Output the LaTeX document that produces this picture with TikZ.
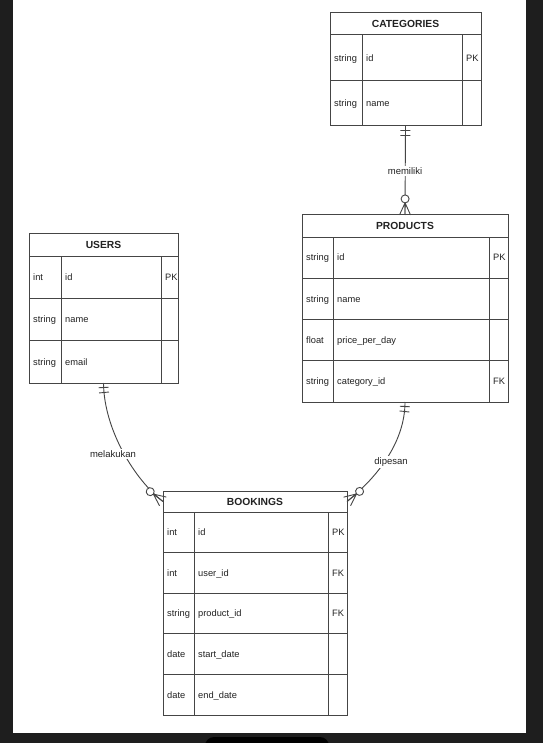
\documentclass[tikz,border=0pt]{standalone}
\usepackage{fontspec}
\setmainfont{Liberation Sans}
\usetikzlibrary{decorations.markings}

\definecolor{frame}{HTML}{1E1E1E}
\definecolor{ink}{HTML}{222222}
\definecolor{rule}{HTML}{454545}

\tikzset{
  tblbox/.style={draw=rule, line width=1pt, inner sep=0pt, outer sep=0pt, fill=white},
  tblhead/.style={draw=rule, line width=1pt, inner sep=0pt, outer sep=0pt,
    font=\fontsize{10.3}{12}\selectfont\bfseries, text=ink},
  grid/.style={draw=rule, line width=0.95pt},
  fld/.style={anchor=west, inner sep=0pt, text height=6.7pt, text depth=0pt,
    font=\fontsize{9.3}{11}\selectfont, text=ink},
  rel/.style={draw=rule, line width=0.9pt},
  rellabel/.style={fill=white, inner sep=1.5pt, font=\fontsize{9.5}{11}\selectfont, text=ink},
  % "exactly one" end: two bars across the line
  onlyone/.style={postaction={decorate, decoration={markings,
      mark=at position 4.5pt with {\draw[rel] (0,-5pt) -- (0,5pt);},
      mark=at position 9.5pt with {\draw[rel] (0,-5pt) -- (0,5pt);}}}},
  % "zero or many" end: crow's foot plus open circle
  zeromany/.style={postaction={decorate, decoration={markings,
      mark=at position 0.999 with {
        \draw[rel] (-12pt,0) -- (0,5.5pt) (-12pt,0) -- (0,0) (-12pt,0) -- (0,-5.5pt);
        \draw[rel, fill=white] (-16pt,0) circle (4pt);}}}},
}

% name, title, left, top, right, bottom, header bottom
\newcommand\ertable[7]{%
  \node[tblbox, anchor=north west, minimum width={(#5)-(#3)}, minimum height={(#6)-(#4)}] (#1) at (#3,#4) {};
  \node[tblhead, anchor=north west, minimum width={(#5)-(#3)}, minimum height={(#7)-(#4)}] (#1-head) at (#3,#4) {#2};
}

% name, left, right, column 1, column 2, header bottom, bottom, row count, rows
\newcommand\errows[9]{%
  \draw[grid] (#4,#6) -- (#4,#7) (#5,#6) -- (#5,#7);
  \pgfmathsetmacro\rowh{((#7)-(#6))/(#8)}
  \foreach [count=\i] \ty/\fn/\ky in {#9} {
    \pgfmathsetmacro\yc{#6+(\i-0.5)*\rowh}
    \node[fld] (#1-type\i) at (#2+4,\yc) {\ty};
    \node[fld] (#1-name\i) at (#4+4,\yc) {\fn};
    \node[fld] (#1-key\i) at (#5+4,\yc) {\ky};
    \ifnum\i>1
      \pgfmathsetmacro\ys{#6+(\i-1)*\rowh}
      \draw[grid] (#2,\ys) -- (#3,\ys);
    \fi
  }
}

\begin{document}
\begin{tikzpicture}[x=1pt, y=-1pt]
  \useasboundingbox (0,0) rectangle (543,743);
  \clip (0,0) rectangle (543,743);

  % window frame and page
  \fill[frame] (0,0) rectangle (543,743);
  \fill[white] (12.5,0) rectangle (526,733);
  \fill[black, rounded corners=9pt] (205,737) rectangle (329,760);

  % entities
  \ertable{categories}{CATEGORIES}{330}{13}{481}{126}{35}
  \errows{categories}{330}{481}{362}{462}{35}{126}{2}{string/id/PK, string/name/{}}

  \ertable{products}{PRODUCTS}{302}{215}{508}{402}{237}
  \errows{products}{302}{508}{333}{489}{237}{402}{4}{string/id/PK, string/name/{}, float/price\_per\_day/{}, string/category\_id/FK}

  \ertable{users}{USERS}{29}{233}{178}{383}{256}
  \errows{users}{29}{178}{61}{161}{256}{383}{3}{int/id/PK, string/name/{}, string/email/{}}

  \ertable{bookings}{BOOKINGS}{163}{491}{347}{715}{512}
  \errows{bookings}{163}{347}{194}{328}{512}{715}{5}{int/id/PK, int/user\_id/FK, string/product\_id/FK, date/start\_date/{}, date/end\_date/{}}

  % relationships
  \draw[rel, onlyone, zeromany] (categories.south) -- (products.north);
  \draw[rel, onlyone, zeromany] (users.south) .. controls (104,430) and (135,480) .. (bookings-head.west);
  \draw[rel, onlyone, zeromany] (products.south) .. controls (405,440) and (380,475) .. (bookings-head.east);

  \node[rellabel] (lbl-memiliki) at (405,171) {memiliki};
  \node[rellabel] (lbl-melakukan) at (113,454) {melakukan};
  \node[rellabel] (lbl-dipesan) at (391,462) {dipesan};
\end{tikzpicture}
\end{document}
